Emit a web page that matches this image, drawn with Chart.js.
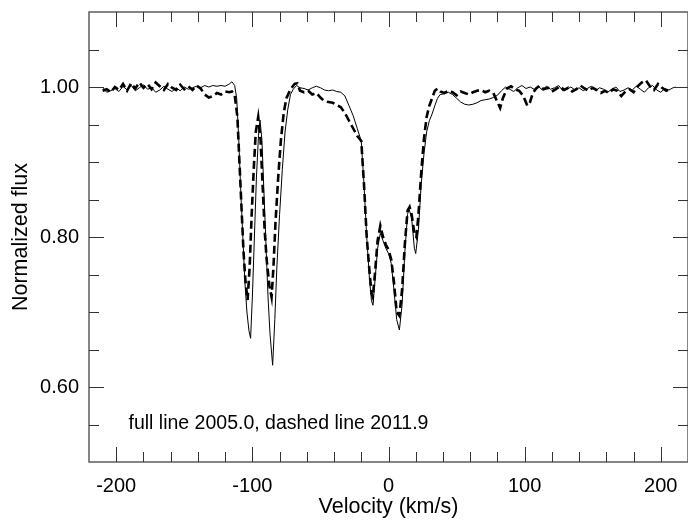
<!DOCTYPE html>
<html lang="en">

<head>
    <meta charset="UTF-8">
    <title>Normalized flux</title>
    <script src="https://cdn.jsdelivr.net/npm/chart.js"></script>
    <style>
        body { margin: 0; background: #fff; }
        #wrap { width: 688px; height: 520px; }
    </style>
</head>

<body>
    <div id="wrap"><canvas id="myChart" width="688" height="520"></canvas></div>

    <script>
        // full line, 2005.0
        const velSolid = [-210, -207, -204, -201, -198, -195, -192, -189, -186, -183, -180, -177, -174, -171, -168, -165, -162, -159, -156, -153,
            -150, -147, -144, -141, -138, -135, -132, -129, -126, -123, -120, -117, -115, -113, -111.5, -110, -108.5, -107, -105.5, -104,
            -102.5, -101.3, -100, -98.5, -97, -95.5, -94.4, -93, -91.5, -90, -88.5, -87, -85.1, -83.5, -82, -80, -78, -76, -74, -72,
            -70, -67.5, -65, -62, -59, -56, -53, -50, -47, -44, -41, -38, -35, -32, -29, -26, -23, -20, -18, -16,
            -14, -12.5, -11.4, -10, -8, -6, -4, -2, 0, 2, 4, 6, 8, 10, 12, 14, 15, 17, 19, 20,
            22, 24, 26, 28, 30, 32, 34, 36, 38, 41, 44, 47, 50, 53, 56, 59, 62, 65, 68, 71,
            74, 77, 80, 83, 86, 89, 92, 95, 98, 101, 104, 107, 110, 113, 116, 119, 122, 125, 128, 131,
            134, 137, 140, 143, 146, 149, 152, 155, 158, 161, 164, 167, 170, 173, 176, 179, 182, 185, 188, 191,
            194, 197, 200, 203, 206, 209, 211];
        const fluxSolid = [1.000, 0.993, 0.995, 0.998, 0.994, 1.001, 0.996, 1.002, 0.995, 0.999, 1.003, 0.997, 0.999, 0.993, 0.996, 1.001, 0.997, 0.994, 0.999, 0.995,
            1.000, 0.997, 0.999, 1.001, 0.999, 1.002, 1.000, 1.002, 1.001, 1.002, 1.001, 1.004, 1.007, 1.002, 0.985, 0.93, 0.86, 0.80, 0.74, 0.70,
            0.675, 0.665, 0.72, 0.80, 0.88, 0.935, 0.956, 0.93, 0.86, 0.79, 0.72, 0.67, 0.629, 0.69, 0.76, 0.83, 0.89, 0.94, 0.97, 0.99,
            0.997, 1.002, 0.999, 0.998, 0.996, 0.999, 1.001, 0.999, 0.996, 0.995, 0.996, 0.994, 0.993, 0.988, 0.975, 0.962, 0.945, 0.928, 0.87, 0.80,
            0.745, 0.715, 0.709, 0.74, 0.785, 0.805, 0.795, 0.785, 0.778, 0.765, 0.73, 0.69, 0.676, 0.71, 0.78, 0.83, 0.838, 0.825, 0.785, 0.778,
            0.81, 0.87, 0.91, 0.94, 0.955, 0.964, 0.975, 0.985, 0.99, 0.991, 0.993, 0.990, 0.985, 0.980, 0.977, 0.976, 0.977, 0.979, 0.982, 0.983,
            0.984, 0.986, 0.989, 0.995, 1.000, 0.997, 0.994, 0.999, 1.002, 0.998, 1.000, 0.997, 1.001, 0.996, 1.001, 0.997, 0.999, 1.002, 0.995, 0.997,
            1.000, 0.996, 0.999, 0.995, 0.998, 1.001, 0.995, 0.999, 0.997, 0.993, 0.997, 1.000, 0.994, 0.996, 0.999, 0.996, 1.001, 0.997, 0.993, 0.999,
            1.002, 0.996, 0.993, 0.998, 0.996, 0.999, 1.000];

        // dashed line, 2011.9
        const velDashed = [-210, -207, -204, -201, -198, -195, -192, -189, -186, -183, -180, -177, -174, -171, -168, -165, -162, -159, -156, -153,
            -150, -147, -144, -141, -138, -135, -132, -129, -126, -123, -120, -117, -115, -113, -111, -109.5, -108, -106.5, -105, -103.5,
            -102, -100.5, -99, -97.5, -95.7, -94, -92.5, -91, -89.5, -87.5, -85.9, -84.5, -83, -81, -79, -77, -75, -72, -69, -67,
            -65, -62, -59, -56, -53, -50, -47, -44, -41, -38, -35, -32, -29, -26, -23, -20, -18, -16, -14, -12.5,
            -11.5, -10, -8, -6, -4, -2, 0, 2, 4, 6, 8, 10, 12, 14, 15.5, 17, 19, 20.5, 22, 24,
            26, 28, 30, 32, 34, 36, 38, 41, 44, 47, 50, 53, 56, 59, 62, 65, 68, 71, 74, 77,
            80, 82, 84, 87, 90, 93, 96, 99, 102, 104, 106, 108.5, 111, 114, 117, 120, 123, 126, 129, 132,
            135, 138, 141, 144, 147, 150, 153, 156, 159, 162, 165, 168, 171, 174, 177, 180, 183, 186, 189, 192,
            195, 198, 201, 204, 207];
        const fluxDashed = [0.995, 0.997, 0.993, 1.000, 0.996, 1.004, 0.995, 1.005, 0.998, 1.006, 0.999, 1.004, 0.997, 1.006, 1.001, 0.996, 1.004, 0.999, 0.996, 1.003,
            0.997, 1.001, 0.996, 1.002, 0.998, 0.990, 0.986, 0.988, 0.992, 0.990, 0.994, 0.993, 0.994, 0.990, 0.96, 0.90, 0.84, 0.78, 0.74, 0.716,
            0.76, 0.83, 0.89, 0.94, 0.96, 0.93, 0.87, 0.81, 0.77, 0.735, 0.72, 0.76, 0.82, 0.88, 0.93, 0.965, 0.985, 0.997, 1.004, 1.005,
            0.995, 0.993, 0.995, 0.990, 0.992, 0.986, 0.981, 0.980, 0.979, 0.976, 0.973, 0.965, 0.955, 0.945, 0.935, 0.928, 0.87, 0.80, 0.755, 0.725,
            0.72, 0.75, 0.795, 0.815, 0.80, 0.79, 0.783, 0.77, 0.74, 0.70, 0.695, 0.73, 0.79, 0.835, 0.84, 0.83, 0.805, 0.80, 0.83, 0.885,
            0.93, 0.96, 0.975, 0.985, 0.995, 0.998, 0.994, 0.992, 0.995, 0.993, 0.989, 0.994, 0.992, 0.990, 0.993, 0.995, 0.996, 0.993, 0.995, 0.992,
            0.980, 0.972, 0.985, 0.998, 1.001, 0.997, 0.995, 0.988, 0.975, 0.980, 0.992, 0.998, 1.002, 0.997, 0.999, 0.994, 0.997, 1.001, 0.996, 0.999,
            0.994, 0.997, 1.002, 0.998, 0.995, 0.999, 0.996, 0.992, 0.995, 0.992, 0.997, 0.995, 0.988, 0.994, 0.997, 0.993, 1.001, 1.006, 1.009, 1.001,
            0.996, 1.004, 0.999, 0.995, 0.998];

        // axis ticks
        const xMajorTicks = [-200, -100, 0, 100, 200];
        const xMinorTicks = [-180, -160, -140, -120, -80, -60, -40, -20, 20, 40, 60, 80, 120, 140, 160, 180];
        const yMajorTicks = [0.60, 0.80, 1.00];
        const yMinorTicks = [0.55, 0.65, 0.70, 0.75, 0.85, 0.90, 0.95, 1.05];
        const noteText = 'full line 2005.0, dashed line 2011.9';

        const FONT = '"Liberation Sans", Arial, sans-serif';

        function toPoints(xs, ys) {
            var pts = [];
            for (var i = 0; i < xs.length; i++) {
                pts.push({ x: xs[i], y: ys[i] });
            }
            return pts;
        }

        // frame with inward ticks on all four sides, plus the note text
        const framePlugin = {
            id: 'frame',
            afterDraw(chart) {
                const ctx = chart.ctx;
                const a = chart.chartArea;
                const xs = chart.scales.x;
                const ys = chart.scales.y;
                ctx.save();
                ctx.strokeStyle = '#666';
                ctx.lineWidth = 1.6;
                ctx.strokeRect(a.left, a.top, a.right - a.left, a.bottom - a.top);

                ctx.strokeStyle = '#333';
                ctx.lineWidth = 1;
                ctx.beginPath();
                function xTick(v, len) {
                    const px = Math.round(xs.getPixelForValue(v)) + 0.5;
                    ctx.moveTo(px, a.bottom); ctx.lineTo(px, a.bottom - len);
                    ctx.moveTo(px, a.top); ctx.lineTo(px, a.top + len);
                }
                function yTick(v, len) {
                    const py = Math.round(ys.getPixelForValue(v)) + 0.5;
                    ctx.moveTo(a.left, py); ctx.lineTo(a.left + len, py);
                    ctx.moveTo(a.right, py); ctx.lineTo(a.right - len, py);
                }
                xMajorTicks.forEach(v => xTick(v, 15));
                xMinorTicks.forEach(v => xTick(v, 10));
                yMajorTicks.forEach(v => yTick(v, 15));
                yMinorTicks.forEach(v => yTick(v, 10));
                ctx.stroke();

                ctx.fillStyle = '#000';
                ctx.font = '19.5px ' + FONT;
                ctx.textAlign = 'left';
                ctx.textBaseline = 'alphabetic';
                ctx.fillText(noteText, xs.getPixelForValue(-191), ys.getPixelForValue(0.544));
                ctx.restore();
            }
        };

        const ctx = document.getElementById('myChart');
        new Chart(ctx, {
            type: 'line',
            data: {
                datasets: [{
                    label: '2005.0',
                    data: toPoints(velSolid, fluxSolid),
                    borderColor: '#000',
                    borderWidth: 1,
                    pointRadius: 0,
                    tension: 0
                }, {
                    label: '2011.9',
                    data: toPoints(velDashed, fluxDashed),
                    borderColor: '#000',
                    borderWidth: 2.6,
                    borderDash: [8, 4],
                    pointRadius: 0,
                    tension: 0
                }]
            },
            options: {
                responsive: false,
                animation: false,
                layout: { padding: { top: 12, right: 0, left: 0, bottom: 0 } },
                plugins: {
                    legend: { display: false },
                    tooltip: { enabled: false }
                },
                scales: {
                    x: {
                        type: 'linear',
                        min: -220,
                        max: 220,
                        afterBuildTicks: (s) => { s.ticks = xMajorTicks.map(v => ({ value: v })); },
                        afterFit: (s) => {
                            s.height = 58;
                            s.paddingLeft = 0;
                            s.paddingRight = 0;
                        },
                        grid: { display: false, drawTicks: false },
                        border: { display: false },
                        ticks: {
                            color: '#000',
                            padding: 12,
                            maxRotation: 0,
                            font: { family: FONT, size: 20 },
                            callback: (v) => String(v)
                        },
                        title: {
                            display: true,
                            text: 'Velocity (km/s)',
                            color: '#000',
                            padding: { top: 0, bottom: 0 },
                            font: { family: FONT, size: 21.5 }
                        }
                    },
                    y: {
                        type: 'linear',
                        min: 0.5,
                        max: 1.1,
                        afterBuildTicks: (s) => { s.ticks = yMajorTicks.map(v => ({ value: v })); },
                        afterFit: (s) => {
                            s.width = 89;
                            s.paddingTop = 0;
                            s.paddingBottom = 0;
                        },
                        grid: { display: false, drawTicks: false },
                        border: { display: false },
                        ticks: {
                            color: '#000',
                            padding: 10,
                            font: { family: FONT, size: 20 },
                            callback: (v) => Number(v).toFixed(2)
                        },
                        title: {
                            display: true,
                            text: 'Normalized flux',
                            color: '#000',
                            padding: { top: 8, bottom: 0 },
                            font: { family: FONT, size: 21.5 }
                        }
                    }
                }
            },
            plugins: [framePlugin]
        });
    </script>

</body>

</html>
